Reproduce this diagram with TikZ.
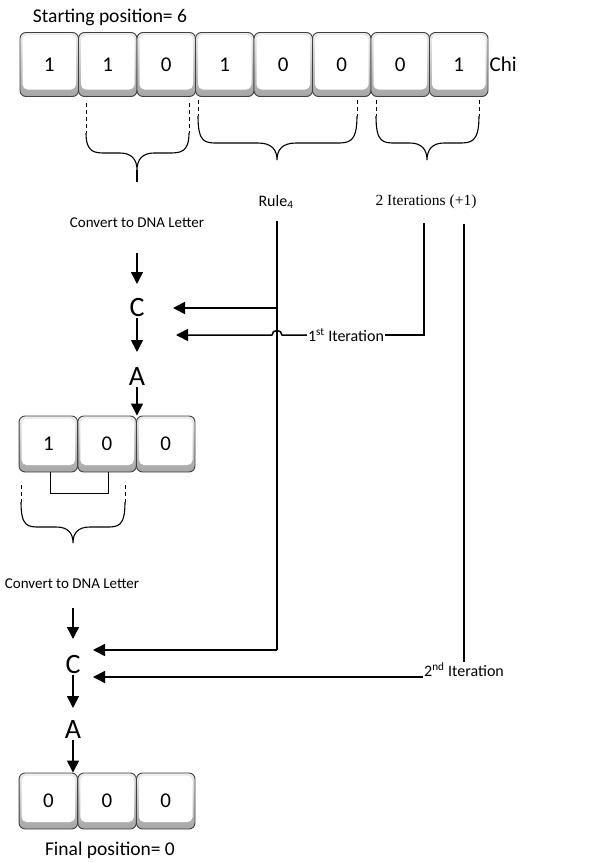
\documentclass[tikz,border=0pt]{standalone}
\usepackage{fontspec}
\setmainfont{Carlito}
\newfontfamily\tnr{Liberation Serif}
\usetikzlibrary{arrows.meta}
\tikzset{
  bitbox/.style={rounded corners=6pt, draw=black!75, line width=0.9pt,
    top color=gray!15, bottom color=gray!70,
    minimum width=58.5pt, inner sep=0pt, font=\fontsize{21}{24}\selectfont,
    path picture={\fill[white, rounded corners=5pt]
      ([shift={(2.5,2.5)}]path picture bounding box.north west) rectangle
      ([shift={(-2.5,-7)}]path picture bounding box.south east);}},
  tallbit/.style={bitbox, minimum height=64pt},
  shortbit/.style={bitbox, minimum height=56pt},
  brace/.style={line width=1.1pt},
  tick/.style={line width=1pt, dash pattern=on 4pt off 3pt},
  conn/.style={line width=1.8pt},
  arr/.style={line width=1.5pt, -{Triangle[length=12pt,width=12pt]}},
  lbl/.style={inner sep=1pt},
  letter/.style={lbl, font=\fontsize{28}{30}\selectfont},
}
\begin{document}
\begin{tikzpicture}[x=1pt,y=-1pt]
\useasboundingbox (0,0) rectangle (613,862);

% top row
\node[lbl, font=\fontsize{19.5}{22}\selectfont] (start) at (110,17) {Starting position= 6};
\foreach \v [count=\i] in {1,1,0,1,0,0,0,1}{
  \node[tallbit] (t\i) at ({20+58.5*(\i-0.5)},64.5) {\v};
}
\node[lbl, anchor=west, font=\fontsize{21}{24}\selectfont] (chi) at (t8.east) {Chi};

% braces under top row
\draw[tick] (86,103) -- (86,133);
\draw[tick] (189,103) -- (189,133);
\draw[brace] (86,133) .. controls (86,153) and (95,153) .. (106,153) -- (120,153)
  .. controls (132,153) and (137,160) .. (137,170)
  .. controls (137,160) and (142,153) .. (154,153) -- (168,153)
  .. controls (180,153) and (189,153) .. (189,133);
\draw[brace] (137,170) -- (137,182);

\draw[tick] (198,100) -- (198,116);
\draw[tick] (357,100) -- (357,116);
\draw[brace] (198,116) .. controls (198,143) and (205,143) .. (218,143) -- (258,143)
  .. controls (272,143) and (277,150) .. (277,160)
  .. controls (277,150) and (282,143) .. (296,143) -- (336,143)
  .. controls (349,143) and (357,143) .. (357,116);

\draw[tick] (376,100) -- (376,116);
\draw[tick] (479,100) -- (479,116);
\draw[brace] (376,116) .. controls (376,143) and (383,143) .. (396,143) -- (410,143)
  .. controls (422,143) and (427,150) .. (427,160)
  .. controls (427,150) and (432,143) .. (444,143) -- (458,143)
  .. controls (471,143) and (479,143) .. (479,116);

% labels
\node[lbl, font=\fontsize{15}{18}\selectfont] (conv1) at (137,223) {Convert to DNA Letter};
\node[lbl, font=\fontsize{16}{18}\selectfont] (rule) at (276,202) {Rule\textsubscript{4}};
\node[lbl, font=\fontsize{15.5}{18}\tnr] (iters) at (426,202) {2 Iterations (+1)};

% first conversion column
\coordinate (a1s) at (137,253);
\node[letter] (c1) at (137,308) {C};
\node[letter] (a1) at (137,377) {A};
\foreach \v [count=\i] in {1,0,0}{
  \node[shortbit] (m\i) at ({19+58.7*(\i-0.5)},444) {\v};
}
\draw[arr] (a1s) -- (137,284);
\draw[arr] (c1.south) ++(0,0) -- (137,352);
\draw[arr] (a1.south) ++(0,0) -- (a1.south |- m2.north);

% rule line
\coordinate (r0) at (277,221);
\coordinate (r1) at (277,308);
\coordinate (r2) at (277,650);
\coordinate (c1arr) at (173,308);
\draw[conn] (r0) -- (r2);
\draw[arr] (r1) -- (c1arr);

% 1st iteration
\coordinate (i0) at (424,223);
\coordinate (i1) at (424,335);
\node[lbl, fill=white, font=\fontsize{16}{18}\selectfont] (it1) at (346,335) {1\textsuperscript{st} Iteration};
\draw[conn] (i0) -- (i1) -- (it1.east);
\draw[arr] (it1.west) -- (282,335) .. controls (282,329) and (272,329) .. (272,335) -- (176,335);

% middle bracket and brace
\draw[line width=0.9pt] (m1.south) ++(2,0) -- ++(0,21) -- ++(58,0) -- ++(0,-21);
\draw[tick] (21,485) -- (21,502);
\draw[tick] (125,485) -- (125,502);
\draw[brace] (21,502) .. controls (21,527) and (28,527) .. (40,527) -- (56,527)
  .. controls (68,527) and (73,533) .. (73,543)
  .. controls (73,533) and (78,527) .. (90,527) -- (106,527)
  .. controls (118,527) and (125,527) .. (125,502);

\node[lbl, font=\fontsize{15}{18}\selectfont] (conv2) at (72,584) {Convert to DNA Letter};

% second conversion column
\coordinate (a2s) at (73,608);
\node[letter] (c2) at (73,665) {C};
\node[letter] (a2) at (73,730) {A};
\foreach \v [count=\i] in {0,0,0}{
  \node[shortbit] (b\i) at ({19+58.7*(\i-0.5)},801) {\v};
}
\draw[arr] (a2s) -- (73,639);
\draw[arr] (c2.south) -- (73,708);
\draw[arr] (a2.south) -- (a2.south |- b1.north);
\node[lbl, font=\fontsize{19.5}{22}\selectfont] (final) at (110,850) {Final position= 0};

% rule to second C
\coordinate (c2arr) at (93,650);
\draw[arr] (r2) -- (c2arr);

% 2nd iteration
\coordinate (j0) at (464,224);
\node[lbl, font=\fontsize{16}{18}\selectfont] (it2) at (464,670) {2\textsuperscript{nd} Iteration};
\coordinate (c2arr2) at (93,677);
\draw[conn] (j0) -- (it2.north);
\draw[arr] (it2.west |- c2arr2) -- (c2arr2);
\end{tikzpicture}
\end{document}
